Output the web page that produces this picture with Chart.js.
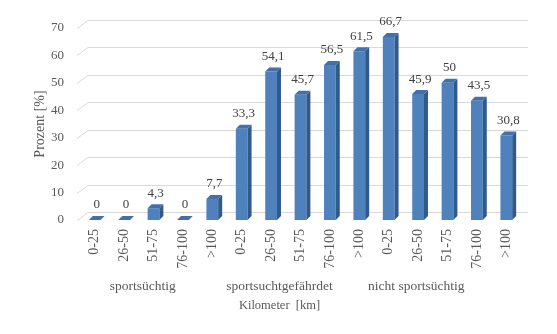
<!DOCTYPE html>
<html>
<head>
<meta charset="utf-8">
<script src="https://cdn.jsdelivr.net/npm/chart.js@4.4.1/dist/chart.umd.min.js"></script>
<style>
  html, body { margin: 0; padding: 0; background: #fff; }
  #c { display: block; }
</style>
</head>
<body>
<canvas id="c" width="557" height="334"></canvas>
<script>
// Chart data -----------------------------------------------------------------
const categories = ['0-25', '26-50', '51-75', '76-100', '>100',
                    '0-25', '26-50', '51-75', '76-100', '>100',
                    '0-25', '26-50', '51-75', '76-100', '>100'];
const groups = ['sportsüchtig', 'sportsuchtgefährdet', 'nicht sportsüchtig'];
const groupMiddle = [2, 7, 12]; // category index under each group label
const values = [0, 0, 4.3, 0, 7.7, 33.3, 54.1, 45.7, 56.5, 61.5, 66.7, 45.9, 50, 43.5, 30.8];
const yTicks = [0, 10, 20, 30, 40, 50, 60, 70];
const xTitle = 'Kilometer  [km]';
const yTitle = 'Prozent [%]';

// Look ---------------------------------------------------------------------
const FONT = '"Liberation Serif", "Times New Roman", serif';
const TEXT = '#595959';
const FRONT = '#4f81bd';
const SIDE = '#2f5a8c';
const TOP = '#4370a8';
const DEPTH = 4;

// back-wall gridlines with a slanted floor edge (3D look)
const wallGrid = {
  id: 'wallGrid',
  beforeDatasetsDraw(chart) {
    const { ctx, chartArea } = chart;
    const y = chart.scales.y;
    ctx.save();
    ctx.strokeStyle = '#d9d9d9';
    ctx.lineWidth = 1;
    yTicks.forEach((v) => {
      const py = Math.round(y.getPixelForValue(v)) + 0.5;
      ctx.beginPath();
      ctx.moveTo(chartArea.left - 3, py);
      ctx.lineTo(chartArea.left + 8, py - 8);
      ctx.lineTo(chartArea.right + 7, py - 8);
      ctx.stroke();
    });
    ctx.restore();
  },
};

// side + top faces of the columns, then the value labels
const columns3d = {
  id: 'columns3d',
  afterDatasetsDraw(chart) {
    const { ctx } = chart;
    const bars = chart.getDatasetMeta(0).data;
    ctx.save();
    bars.forEach((bar, i) => {
      const { x, y, base, width } = bar.getProps(['x', 'y', 'base', 'width'], true);
      const l = x - width / 2;
      const r = x + width / 2;
      ctx.fillStyle = SIDE;
      ctx.beginPath();
      ctx.moveTo(r, y);
      ctx.lineTo(r + DEPTH, y - DEPTH);
      ctx.lineTo(r + DEPTH, base - DEPTH);
      ctx.lineTo(r, base);
      ctx.closePath();
      ctx.fill();
      ctx.fillStyle = TOP;
      ctx.beginPath();
      ctx.moveTo(l, y);
      ctx.lineTo(l + DEPTH, y - DEPTH);
      ctx.lineTo(r + DEPTH, y - DEPTH);
      ctx.lineTo(r, y);
      ctx.closePath();
      ctx.fill();

      ctx.fillStyle = '#404040';
      ctx.font = '13px ' + FONT;
      ctx.textAlign = 'center';
      ctx.textBaseline = 'middle';
      ctx.fillText(String(values[i]).replace('.', ','), x + 2, y - 15);
    });
    ctx.restore();
  },
};

// group names under the tick labels and the axis title
const groupLabels = {
  id: 'groupLabels',
  afterDraw(chart) {
    const { ctx } = chart;
    const xs = chart.scales.x;
    const mid = (xs.left + xs.right) / 2;
    ctx.save();
    ctx.fillStyle = TEXT;
    ctx.textAlign = 'center';
    ctx.textBaseline = 'middle';
    const at = (i) => mid + (xs.getPixelForValue(i) - mid) * 0.93 - 21;
    ctx.font = '13.5px ' + FONT;
    groups.forEach((g, k) => ctx.fillText(g, at(groupMiddle[k]), 286));
    ctx.font = '12.5px ' + FONT;
    ctx.fillText(xTitle, at(groupMiddle[1]), 306);
    ctx.restore();
  },
};

new Chart(document.getElementById('c'), {
  type: 'bar',
  data: {
    labels: categories,
    datasets: [{
      data: values,
      backgroundColor: FRONT,
      borderWidth: 0,
      barPercentage: 0.4,
      categoryPercentage: 1,
    }],
  },
  options: {
    responsive: false,
    animation: false,
    devicePixelRatio: 1,
    layout: { padding: { top: 28, right: 36, left: 0, bottom: 0 } },
    plugins: { legend: { display: false }, tooltip: { enabled: false } },
    scales: {
      x: {
        grid: { display: false, drawTicks: false },
        border: { display: false },
        ticks: {
          color: TEXT,
          font: { family: FONT, size: 14 },
          minRotation: 90,
          maxRotation: 90,
          autoSkip: false,
          padding: 9,
        },
        afterFit: (s) => { s.height = 114; },
      },
      y: {
        min: 0,
        max: 70,
        grid: { display: false, drawTicks: false },
        border: { display: false },
        ticks: {
          stepSize: 10,
          color: TEXT,
          font: { family: FONT, size: 13 },
          padding: 16,
        },
        title: {
          display: true,
          text: yTitle,
          color: TEXT,
          font: { family: FONT, size: 14 },
          padding: { top: 32, bottom: 0 },
        },
        afterFit: (s) => { s.width = 80; },
      },
    },
  },
  plugins: [wallGrid, columns3d, groupLabels],
});
</script>
</body>
</html>
